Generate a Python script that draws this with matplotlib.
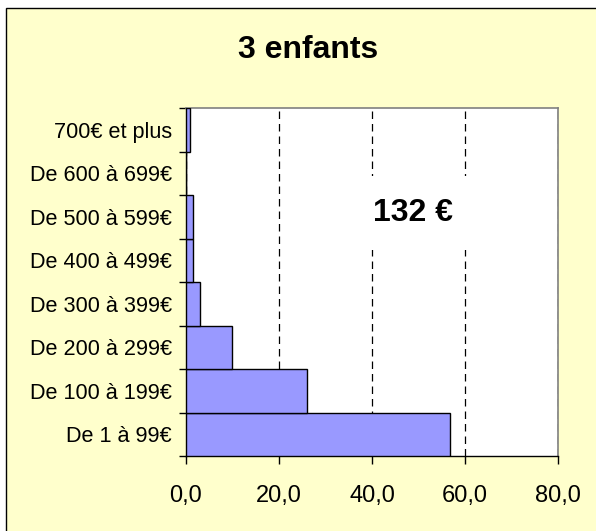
import matplotlib
matplotlib.use('Agg')
import matplotlib.pyplot as plt
from matplotlib.patches import Rectangle
import numpy as np

plt.rcParams['font.family'] = ['Liberation Sans', 'DejaVu Sans']

# tranches de dépenses (bas -> haut) et pourcentages
categories = ['De 1 à 99€', 'De 100 à 199€', 'De 200 à 299€', 'De 300 à 399€',
              'De 400 à 499€', 'De 500 à 599€', 'De 600 à 699€', '700€ et plus']
values = [56.7, 26.0, 9.9, 3.0, 1.4, 1.4, 0.0, 0.9]
x_ticks = [0, 20, 40, 60, 80]
x_labels = ['0,0', '20,0', '40,0', '60,0', '80,0']
title = '3 enfants'
mean_label = '132 €'

W, H = 596, 531
fig = plt.figure(figsize=(W / 100, H / 100), dpi=100)
fig.patch.set_facecolor('white')
# fond jaune avec bordure (coupée à droite et en bas)
fig.patches.append(Rectangle((5.5 / W, -0.1), 1.2, (H - 8) / H + 0.1,
                             transform=fig.transFigure, facecolor='#FFFFCC',
                             edgecolor='black', lw=1, zorder=-10))

ax = fig.add_axes([186 / W, 1 - 456 / H, (558 - 186) / W, (456 - 108) / H])
ax.set_facecolor('white')

y = np.arange(len(categories))
ax.barh(y, values, height=1.0, color='#9999FF', edgecolor='black', lw=1, zorder=3)

ax.set_xlim(0, 80)
ax.set_ylim(-0.5, len(categories) - 0.5)
ax.set_xticks(x_ticks)
ax.set_xticklabels(x_labels, fontsize=17)
ax.set_yticks(y)
ax.set_yticklabels(categories, fontsize=15.6)
ax.set_yticks(np.arange(-0.5, len(categories)), minor=True)
ax.tick_params(axis='y', which='major', length=0, pad=10)
ax.tick_params(axis='y', which='minor', length=5, width=1, direction='out')
ax.tick_params(axis='x', length=6, width=1, direction='out', pad=15)

ax.xaxis.grid(True, color='black', lw=0.9, linestyle=(0, (6, 4)), zorder=1)
ax.set_axisbelow(True)

for s in ['top', 'right']:
    ax.spines[s].set_color('#808080')
    ax.spines[s].set_linewidth(1.2)
for s in ['left', 'bottom']:
    ax.spines[s].set_color('black')
    ax.spines[s].set_linewidth(1)

ax.text(0.61, 0.698, mean_label, transform=ax.transAxes, fontsize=23,
        fontweight='bold', ha='center', va='center', zorder=4,
        bbox=dict(boxstyle='square,pad=0.7', facecolor='white', edgecolor='none'))

fig.text(308 / W, 1 - 50 / H, title, fontsize=23, fontweight='bold',
         ha='center', va='center')

plt.savefig('out.png', dpi=100, facecolor=fig.get_facecolor())
